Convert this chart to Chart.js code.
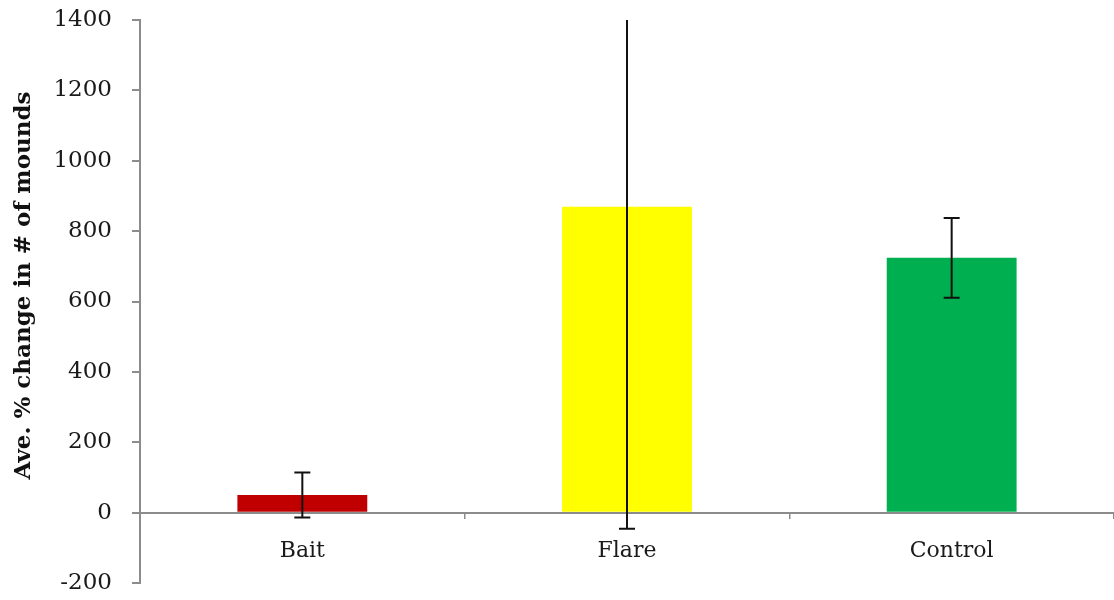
<!DOCTYPE html>
<html>
<head>
<meta charset="utf-8">
<script src="https://cdn.jsdelivr.net/npm/chart.js@4"></script>
<style>
  html, body { margin: 0; padding: 0; background: #fff; }
  #wrap { width: 1114px; height: 600px; }
</style>
</head>
<body>
<div id="wrap"><canvas id="myChart"></canvas></div>
<script>
"use strict";
const categories = ["Bait", "Flare", "Control"];
const averages = [50, 869, 724];
const errors = [64, 915, 113];
const barColors = ["#c00000", "#ffff00", "#00b050"];
const yTicks = [-200, 0, 200, 400, 600, 800, 1000, 1200, 1400];

const axisGray = "#8c8c8c";

// draws the error bars through the y scale, clipped to the plot area
const errorBars = {
  id: "errorBars",
  afterDatasetsDraw(chart) {
    const { ctx, chartArea, scales } = chart;
    const meta = chart.getDatasetMeta(0);
    ctx.save();
    ctx.beginPath();
    ctx.rect(chartArea.left, chartArea.top, chartArea.right - chartArea.left, chartArea.bottom - chartArea.top);
    ctx.clip();
    ctx.strokeStyle = "#111";
    ctx.lineWidth = 2;
    meta.data.forEach((bar, i) => {
      const x = bar.x;
      const top = scales.y.getPixelForValue(averages[i] + errors[i]);
      const bottom = scales.y.getPixelForValue(averages[i] - errors[i]);
      ctx.beginPath();
      ctx.moveTo(x, top);
      ctx.lineTo(x, bottom);
      ctx.moveTo(x - 8, top);
      ctx.lineTo(x + 8, top);
      ctx.moveTo(x - 8, bottom);
      ctx.lineTo(x + 8, bottom);
      ctx.stroke();
    });
    ctx.restore();
  },
};

const ctx = document.getElementById("myChart");

new Chart(ctx, {
  type: "bar",
  data: {
    labels: categories,
    datasets: [
      {
        data: averages,
        backgroundColor: barColors,
        borderWidth: 0,
        barPercentage: 0.4,
        categoryPercentage: 1,
      },
    ],
  },
  options: {
    responsive: true,
    maintainAspectRatio: false,
    animation: false,
    layout: { padding: { top: 20, bottom: 17, left: 0, right: 0 } },
    plugins: {
      legend: { display: false },
      tooltip: { enabled: false },
    },
    scales: {
      x: {
        position: { y: 0 },
        afterFit: (scale) => {
          scale.height = 0;
        },
        border: { color: axisGray, width: 2 },
        grid: {
          offset: true,
          drawOnChartArea: false,
          color: axisGray,
          tickLength: 5,
          lineWidth: 1.5,
        },
        ticks: {
          color: "#1a1a1a",
          padding: 20,
          font: { family: "DejaVu Serif", size: 22 },
        },
      },
      y: {
        min: -200,
        max: 1400,
        afterFit: (scale) => {
          scale.width = 140;
          scale.paddingTop = 0;
          scale.paddingBottom = 0;
        },
        afterBuildTicks: (scale) => {
          scale.ticks = yTicks.map((v) => ({ value: v }));
        },
        border: { color: axisGray, width: 2 },
        grid: {
          drawOnChartArea: false,
          color: axisGray,
          tickLength: 8,
          lineWidth: 2,
        },
        ticks: {
          color: "#1a1a1a",
          padding: 20,
          font: { family: "DejaVu Serif", size: 23 },
          callback: (value) => String(value),
        },
        title: {
          display: true,
          text: "\u00a0\u00a0\u00a0\u00a0Ave. % change in # of mounds",
          color: "#111",
          padding: { top: 10, bottom: 0 },
          font: { family: "DejaVu Serif", size: 23, weight: "bold" },
        },
      },
    },
  },
  plugins: [errorBars],
});
</script>
</body>
</html>
